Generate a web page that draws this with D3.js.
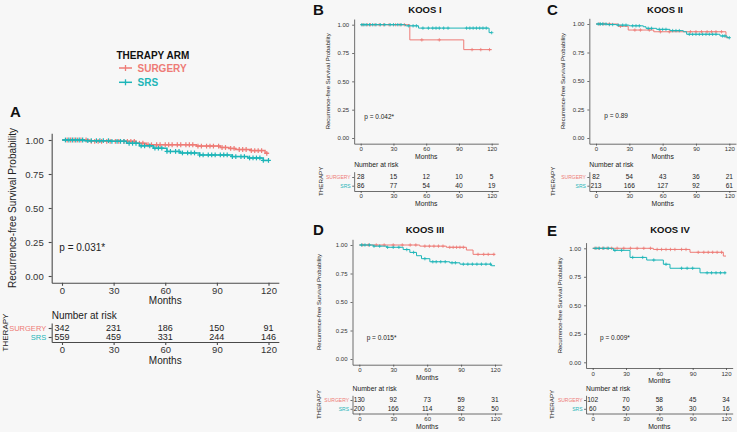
<!DOCTYPE html>
<html><head><meta charset="utf-8">
<script src="https://cdn.jsdelivr.net/npm/d3@7"></script>
<style>body{margin:0;background:#f7f7f7}svg{display:block}</style>
</head><body><svg id="c" width="737" height="432"></svg>
<script>
// ---------------- DATA ----------------
const months = [0, 30, 60, 90, 120];
const yTicks = [0, 0.25, 0.5, 0.75, 1];
const arms = ['SURGERY', 'SRS'];
const panelIds = ['A', 'B', 'C', 'D', 'E'];
const panelTitles = ['', 'KOOS I', 'KOOS II', 'KOOS III', 'KOOS IV'];
const pValues = ['p = 0.031*', 'p = 0.042*', 'p = 0.89', 'p = 0.015*', 'p = 0.009*'];

// step curves: [month, survival]
const surgeryStepsA = [[0,1],[16,0.99],[43,0.976],[49,0.965],[78,0.955],[92,0.945],[97,0.938],[101,0.93],[110,0.922],[118,0.902]];
const srsStepsA = [[0,1],[13,0.995],[28,0.99],[37.5,0.976],[45,0.957],[53,0.94],[61,0.916],[68.5,0.905],[80,0.89],[99,0.878],[108,0.868],[117,0.85]];
const surgeryStepsB = [[0,1],[45,0.866],[94.4,0.78]];
const srsStepsB = [[0,1],[41,0.99],[53,0.97],[117.6,0.93]];
const surgeryStepsC = [[0,1],[20,0.98],[29,0.947],[52,0.932],[117,0.88]];
const srsStepsC = [[0,1],[10,0.995],[18.6,0.99],[30,0.984],[42.6,0.976],[45,0.962],[54.6,0.953],[66.6,0.942],[78.6,0.932],[81.6,0.91],[111.6,0.895],[118,0.88]];
const surgeryStepsD = [[0,1],[53.5,0.99],[77,0.98],[94.7,0.956],[100.6,0.918]];
const srsStepsD = [[0,1],[12.4,0.99],[24,0.98],[38.8,0.96],[44.7,0.935],[50.6,0.906],[55,0.88],[62.4,0.853],[80,0.844],[89,0.832],[116.8,0.818]];
const surgeryStepsE = [[0,1],[54.6,0.99],[87.6,0.965],[117.6,0.932]];
const srsStepsE = [[0,1],[18.6,0.982],[33.6,0.92],[48.6,0.897],[63.6,0.86],[69.6,0.825],[96.6,0.785]];

// censor times (months)
const surgeryCensorA = [3,5,7,9,11,14,17,19,21,23,26,28,31,33,36,38,40,42,45,47,50,52,55,57,60,62,64,67,69,72,74,76,79,81,84,86,88,91,93,95,98,100,103,105,107,110,112,114,116,119];
const srsCensorA = [2,4,6,8,10,12,15,17,20,22,24,27,29,32,34,36,39,41,43,46,48,51,54,56,58,61,63,66,68,70,73,75,77,80,82,85,87,89,92,94,96,99,101,104,106,109,111,113,115,117,120];
const surgeryCensorB = [2,6,9,13,17,21,26,32,36,40,56,72,102,110,118];
const srsCensorB = [1,3,5,8,11,14,18,22,27,30,34,37,44,48,51,57,62,66,69,72,76,80,97,100,103,106,109,112,115,120];
const surgeryCensorC = [3,7,12,22,35,40,48,58,66,85,90,95,100,104,108,113];
const srsCensorC = [2,4,6,9,12,15,20,24,27,33,36,39,47,50,57,60,63,69,72,75,84,87,90,93,96,99,102,105,108,114,116,120];
const surgeryCensorD = [3,8,15,22,30,38,45,50,58,62,66,70,74,80,83,86,89,92,105,110,114,119];
const srsCensorD = [2,5,9,13,18,25,30,35,42,48,58,65,68,72,76,82,85,92,96,100,104,108,112,116];
const surgeryCensorE = [2,5,9,13,17,22,28,34,40,46,52,58,62,66,70,74,80,84,95,100,104,108,112,116];
const srsCensorE = [3,6,10,14,20,26,36,45,55,66,80,85,90,103,107,111,115,119];

// numbers at risk at months 0,30,60,90,120
const riskSurgeryA = [342,231,186,150,91];
const riskSrsA = [559,459,331,244,146];
const riskSurgeryB = [28,15,12,10,5];
const riskSrsB = [86,77,54,40,19];
const riskSurgeryC = [82,54,43,36,21];
const riskSrsC = [213,166,127,92,61];
const riskSurgeryD = [130,92,73,59,31];
const riskSrsD = [200,166,114,82,50];
const riskSurgeryE = [102,70,58,45,34];
const riskSrsE = [60,50,36,30,16];

const panelData = {
  A:{steps:[surgeryStepsA,srsStepsA],cens:[surgeryCensorA,srsCensorA],risk:[riskSurgeryA,riskSrsA]},
  B:{steps:[surgeryStepsB,srsStepsB],cens:[surgeryCensorB,srsCensorB],risk:[riskSurgeryB,riskSrsB]},
  C:{steps:[surgeryStepsC,srsStepsC],cens:[surgeryCensorC,srsCensorC],risk:[riskSurgeryC,riskSrsC]},
  D:{steps:[surgeryStepsD,srsStepsD],cens:[surgeryCensorD,srsCensorD],risk:[riskSurgeryD,riskSrsD]},
  E:{steps:[surgeryStepsE,srsStepsE],cens:[surgeryCensorE,srsCensorE],risk:[riskSurgeryE,riskSrsE]}
};

// ---------------- LAYOUT / STYLE ----------------
const COLORS = ['#EE7B76', '#1DB5B8'];
const FONT = "'Liberation Sans', Arial, Helvetica, sans-serif";
const TXT = '#333';
const AX = '#4a4a4a';

const LAY = {
  A:{x0:62,x120:268.5,y1:140,y0:276,big:true,letter:[10,116.7],ylabX:12,px:59.3,py:247.7,nar:315,r1:328,r2:337,tax:342,therX:5},
  B:{x0:360.7,x120:491.7,y1:24.7,y0:138,letter:[313,15],title:[425,12.7],ylabX:327.7,px:364.3,py:117,nar:164.5,r1:177,r2:185.7,tax:191,therX:320.5},
  C:{x0:596,x120:729.3,y1:24,y0:138,letter:[547,15],title:[665,12.7],ylabX:562.7,px:604.3,py:116,nar:164.5,r1:177,r2:185.7,tax:191,therX:552.7},
  D:{x0:359.3,x120:495,y1:245,y0:359,letter:[313,235],title:[425,233],ylabX:319,px:366.7,py:338,nar:388.7,r1:400,r2:408.8,tax:413.5,therX:319},
  E:{x0:592.7,x120:726,y1:248.3,y0:362.3,letter:[547,235.7],title:[670,233],ylabX:560,px:600,py:338,nar:388.7,r1:400,r2:408.8,tax:413.5,therX:552}
};
const STY = {
  big:{fsTick:9.5,tick:3,offB:7.6,tblOffB:7.6,padL:5,fsLab:10,fsYlab:10,fsP:10,fsNAR:10,fsNum:9,fsRow:7.5,fsTher:8,lw:1.5,cross:2.4,axW:1.1,monthsOff:17.5,tblMonthsOff:18.5},
  small:{fsTick:6,tick:2,offB:5.4,tblOffB:5,padL:3,fsLab:6.8,fsYlab:6,fsP:6.5,fsNAR:6.8,fsNum:6.6,fsRow:5,fsTher:6.2,lw:1,cross:1.7,axW:0.8,monthsOff:13,tblMonthsOff:13}
};

const svg = d3.select('#c');
svg.append('rect').attr('width',737).attr('height',432).attr('fill','#f7f7f7');

function survAt(steps, t){
  let s = 1;
  for (const [tt, v] of steps) { if (tt <= t) s = v; }
  return s;
}

function styleAxis(sel, fs, w){
  sel.selectAll('path.domain').attr('stroke', AX).attr('stroke-width', w);
  sel.selectAll('.tick line').attr('stroke', AX).attr('stroke-width', w);
  sel.selectAll('.tick text').attr('font-size', fs).attr('font-family', FONT).attr('fill', TXT);
}

function drawPanel(id, idx){
  const L = LAY[id], S = L.big ? STY.big : STY.small, D = panelData[id];
  const g = svg.append('g');
  const k = (L.x120 - L.x0) / 120;
  const x = d3.scaleLinear([-6, 126], [L.x0 - 6*k, L.x120 + 6*k]);
  const ky = L.y0 - L.y1;
  const y = d3.scaleLinear([-0.05, 1.05], [L.y0 + 0.05*ky, L.y1 - 0.05*ky]);

  // panel letter + title
  g.append('text').attr('x', L.letter[0]).attr('y', L.letter[1]).text(id)
    .attr('font-family', FONT).attr('font-weight', 'bold').attr('font-size', 15).attr('fill', '#111');
  if (panelTitles[idx]) {
    g.append('text').attr('x', L.title[0]).attr('y', L.title[1]).text(panelTitles[idx])
      .attr('text-anchor', 'middle').attr('font-family', FONT).attr('font-weight', 'bold')
      .attr('font-size', 9.5).attr('fill', '#111');
  }

  // axes
  const yAx = g.append('g').attr('transform', `translate(${x(-6)},0)`)
    .call(d3.axisLeft(y).tickValues(yTicks).tickFormat(d3.format('.2f')).tickSize(S.tick).tickSizeOuter(0).tickPadding(S.padL));
  styleAxis(yAx, S.fsTick, S.axW);
  const padB = S.offB - S.tick - 0.35*S.fsTick;
  const xAx = g.append('g').attr('transform', `translate(0,${y(-0.05)})`)
    .call(d3.axisBottom(x).tickValues(months).tickSize(S.tick).tickSizeOuter(0).tickPadding(padB));
  styleAxis(xAx, S.fsTick, S.axW);

  g.append('text').attr('x', x(60)).attr('y', y(-0.05) + S.monthsOff).text('Months')
    .attr('text-anchor', 'middle').attr('dy', '0.35em').attr('font-family', FONT)
    .attr('font-size', S.fsLab).attr('fill', '#222');
  const yc = (y(1.05) + y(-0.05)) / 2;
  g.append('text').attr('transform', `translate(${L.ylabX},${yc}) rotate(-90)`)
    .text('Recurrence-free Survival Probability').attr('text-anchor', 'middle').attr('dy', '0.35em')
    .attr('font-family', FONT).attr('font-size', S.fsYlab).attr('fill', '#222');

  // curves
  const line = d3.line().x(d => x(d[0])).y(d => y(d[1])).curve(d3.curveStepAfter);
  D.steps.forEach((steps, i) => {
    const pts = steps.concat([[120, steps[steps.length-1][1]]]);
    g.append('path').attr('d', line(pts)).attr('fill', 'none')
      .attr('stroke', COLORS[i]).attr('stroke-width', S.lw);
    const cg = g.append('g').attr('stroke', COLORS[i]).attr('stroke-width', S.lw * 0.8);
    D.cens[i].forEach(t => {
      const cx = x(t), cy = y(survAt(steps, t));
      cg.append('line').attr('x1', cx).attr('x2', cx).attr('y1', cy - S.cross).attr('y2', cy + S.cross);
      cg.append('line').attr('x1', cx - S.cross).attr('x2', cx + S.cross).attr('y1', cy).attr('y2', cy);
    });
  });

  // p value
  g.append('text').attr('x', L.px).attr('y', L.py).attr('dy', '0.35em').text(pValues[idx])
    .attr('font-family', FONT).attr('font-size', S.fsP).attr('fill', '#222');

  // risk table
  g.append('text').attr('x', x(-6)).attr('y', L.nar).attr('dy', '0.35em').text('Number at risk')
    .attr('font-family', FONT).attr('font-size', S.fsNAR).attr('fill', '#222');
  const top = L.r1 - (L.tax - L.r2);
  const pad = ((L.tax - top) / (L.r2 - L.r1) - 1) / 2;
  const ry = d3.scalePoint().domain(arms).range([top, L.tax]).padding(pad);
  const rAx = g.append('g').attr('transform', `translate(${x(-6)},0)`)
    .call(d3.axisLeft(ry).tickSize(S.tick).tickSizeOuter(0).tickPadding(S.padL * 0.5));
  styleAxis(rAx, S.fsRow, S.axW);
  rAx.selectAll('.tick text').attr('fill', (d, i) => COLORS[i]);
  const padT = S.tblOffB - S.tick - 0.35*S.fsTick;
  const tAx = g.append('g').attr('transform', `translate(0,${L.tax})`)
    .call(d3.axisBottom(x).tickValues(months).tickSize(S.tick).tickSizeOuter(0).tickPadding(padT));
  styleAxis(tAx, S.fsTick, S.axW);
  g.append('text').attr('x', x(60)).attr('y', L.tax + S.tblMonthsOff).text('Months')
    .attr('text-anchor', 'middle').attr('dy', '0.35em').attr('font-family', FONT)
    .attr('font-size', S.fsLab).attr('fill', '#222');
  D.risk.forEach((vals, i) => {
    g.append('g').selectAll('text').data(vals).join('text')
      .attr('x', (d, j) => x(months[j])).attr('y', ry(arms[i])).attr('dy', '0.35em')
      .attr('text-anchor', 'middle').text(d => d)
      .attr('font-family', FONT).attr('font-size', S.fsNum).attr('fill', '#222');
  });
  g.append('text').attr('transform', `translate(${L.therX},${(top + L.tax)/2}) rotate(-90)`)
    .text('THERAPY').attr('text-anchor', 'middle').attr('dy', '0.35em')
    .attr('font-family', FONT).attr('font-size', S.fsTher).attr('fill', '#222');
}

panelIds.forEach((id, i) => drawPanel(id, i));

// legend (panel A)
const lg = svg.append('g');
lg.append('text').attr('x', 116.5).attr('y', 59).text('THERAPY ARM')
  .attr('font-family', FONT).attr('font-weight', 'bold').attr('font-size', 10).attr('fill', '#111');
arms.forEach((a, i) => {
  const yy = 68 + i * 14.3;
  lg.append('line').attr('x1', 119).attr('x2', 132).attr('y1', yy).attr('y2', yy)
    .attr('stroke', COLORS[i]).attr('stroke-width', 1.5);
  lg.append('line').attr('x1', 125.5).attr('x2', 125.5).attr('y1', yy - 3).attr('y2', yy + 3)
    .attr('stroke', COLORS[i]).attr('stroke-width', 1.3);
  lg.append('text').attr('x', 137.5).attr('y', yy).attr('dy', '0.35em').text(a)
    .attr('font-family', FONT).attr('font-weight', 'bold').attr('font-size', 10).attr('fill', COLORS[i]);
});
</script>
</body></html>
